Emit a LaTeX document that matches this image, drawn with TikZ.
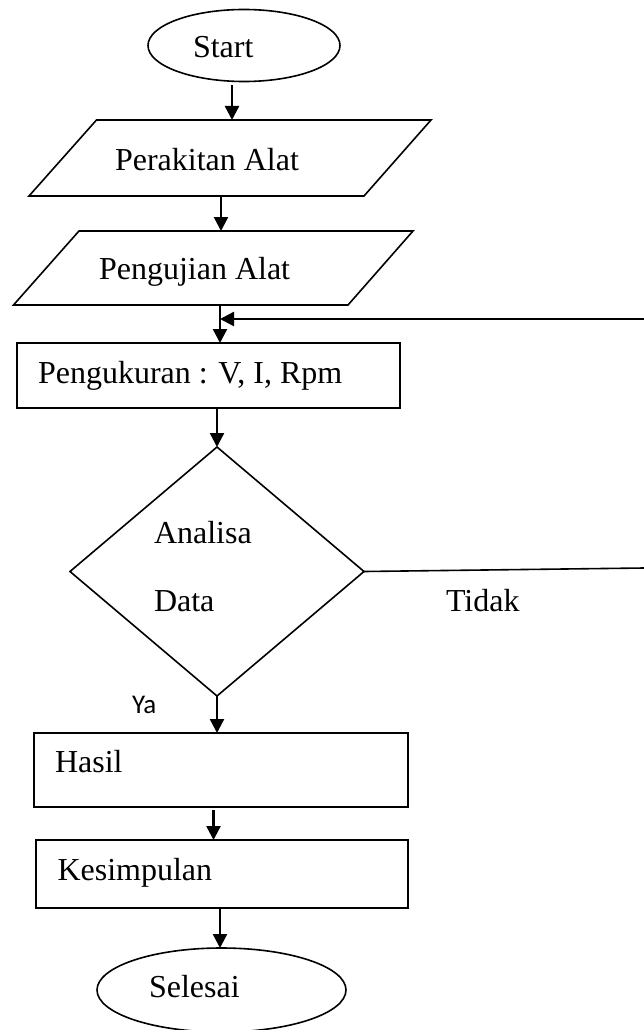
\documentclass[tikz,border=0pt]{standalone}
\usepackage{fontspec}
\setmainfont{Liberation Serif}
\newfontfamily\calibri{Carlito}
\usetikzlibrary{shapes.geometric,arrows.meta}
\begin{document}
\begin{tikzpicture}[x=1pt,y=-1pt,
  shapeline/.style={draw=black,line width=1.6pt},
  ghost/.style={draw=none,inner sep=0pt,outer sep=0pt},
  term/.style={shapeline,ellipse,inner sep=0pt,outer sep=0pt},
  procbox/.style={shapeline,rectangle,inner sep=0pt,outer sep=0pt},
  decis/.style={shapeline,diamond,inner sep=0pt,outer sep=0pt},
  lbl/.style={inner sep=0pt,outer sep=0pt,anchor=base west,font=\fontsize{32}{38}\selectfont},
  arr/.style={line width=2.4pt,-{Triangle[length=14pt,width=14pt]}},
  plain/.style={line width=1.6pt}
]
\useasboundingbox (0,0) rectangle (644,1030);
\fill[white] (0,0) rectangle (644,1030);

% Start
\node[term,minimum width=192pt,minimum height=72pt] (start) at (244,45.5) {};
\node[lbl] (tstart) at (193,58) {Start};

% Perakitan Alat (parallelogram)
\draw[shapeline,line join=miter] (96.5,120) -- (431,120) -- (364,196) -- (29,196) -- cycle;
\node[ghost,minimum width=402pt,minimum height=76pt] (p1) at (230,158) {};
\node[lbl] (tp1) at (115,170) {Perakitan Alat};

% Pengujian Alat (parallelogram)
\draw[shapeline,line join=miter] (79,231) -- (413,231) -- (348,305) -- (13.5,305) -- cycle;
\node[ghost,minimum width=399.5pt,minimum height=74pt] (p2) at (213.25,268) {};
\node[lbl] (tp2) at (99,279) {Pengujian Alat};

% Pengukuran
\node[procbox,minimum width=383pt,minimum height=65pt] (pk) at (208.5,375.5) {};
\node[lbl] (tpk) at (38,383) {Pengukuran : V, I, Rpm};

% Decision
\node[decis,minimum width=294pt,minimum height=249pt] (dia) at (217,571.5) {};
\node[lbl] (tana) at (154,543) {Analisa};
\node[lbl] (tdat) at (154,611) {Data};
\node[lbl] (ttid) at (446,611) {Tidak};
\node[inner sep=0pt,outer sep=0pt,anchor=base west,font=\calibri\fontsize{27}{32}\selectfont] (tya) at (132,713) {Ya};

% Hasil
\node[procbox,minimum width=374pt,minimum height=74pt] (has) at (221,770) {};
\node[lbl] (thas) at (55,772) {Hasil};

% Kesimpulan
\node[procbox,minimum width=372pt,minimum height=68pt] (kes) at (222,874) {};
\node[lbl] (tkes) at (57.5,880) {Kesimpulan};

% Selesai
\node[term,minimum width=249pt,minimum height=84pt] (sel) at (221.5,990) {};
\node[lbl] (tsel) at (149,997) {Selesai};

% helper coordinates
\coordinate (j) at (220,319);
\coordinate (fbR) at (644,319);
\coordinate (dR) at (644,568);

% connectors
\draw[arr] ([xshift=-12pt,yshift=-4pt]start.south) -- ([xshift=-12pt]start.south |- p1.north);
\draw[arr] ([xshift=-9pt]p1.south) -- ([xshift=-9pt]p1.south |- p2.north);
\draw[arr] (p2.south -| j) -- (j |- pk.north);
\draw[arr] (fbR) -- (j);
\draw[arr] ([xshift=8.5pt]pk.south) -- (dia.north);
\draw[plain] (dia.east) -- (dR);
\draw[arr] (dia.south) -- (dia.south |- has.north);
\draw[arr] ([xshift=-7.5pt,yshift=-3pt]has.south) -- ([xshift=-7.5pt]has.south |- kes.north);
\draw[arr] ([xshift=-2pt]kes.south) -- ([xshift=-2pt]kes.south |- sel.north);
\end{tikzpicture}
\end{document}
